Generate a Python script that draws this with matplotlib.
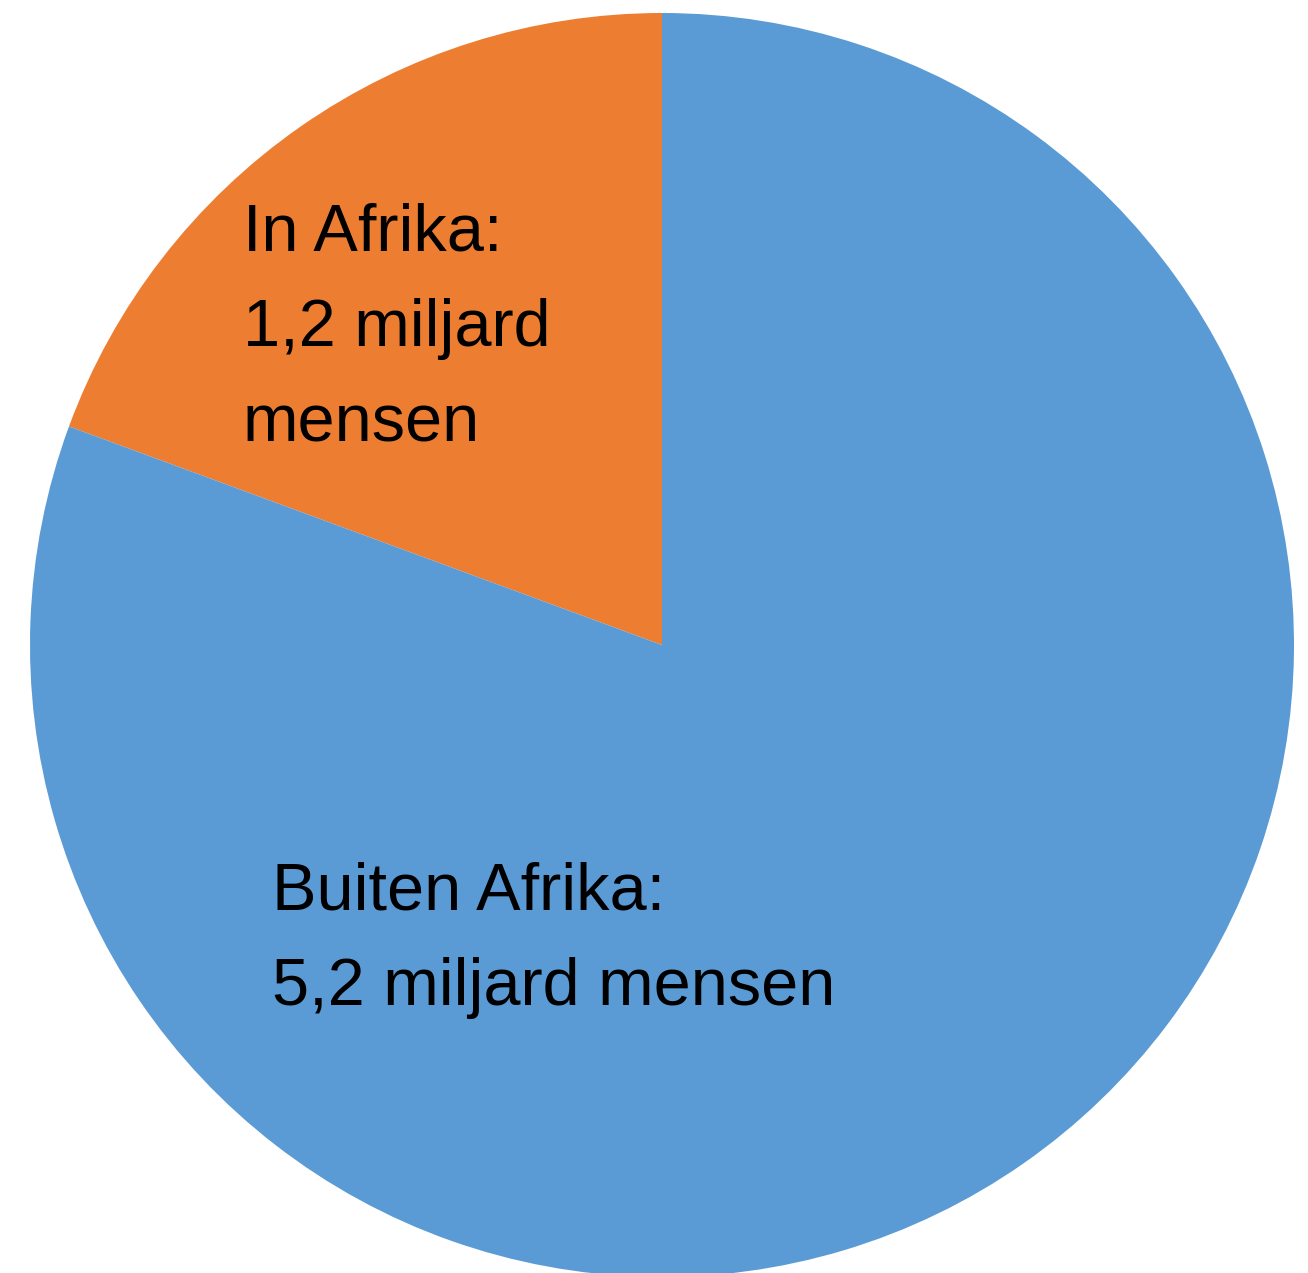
import matplotlib.pyplot as plt

plt.rcParams['font.family'] = ['Liberation Sans', 'DejaVu Sans']

# aantal mensen (miljard); de oranje sector is in het origineel iets groter dan 1,2
labels = ['In Afrika:\n1,2 miljard\nmensen', 'Buiten Afrika:\n5,2 miljard mensen']
values = [1.25, 5.2]
colors = ['#ED7D31', '#5B9BD5']

W, H = 1308, 1273
cx, cy, r = 662, 645, 632


def to_data(px, py):
    return (px - cx) / r, (cy - py) / r


fig = plt.figure(figsize=(W / 100, H / 100), dpi=100)
ax = fig.add_axes([0, 0, 1, 1])
ax.pie(values, colors=colors, startangle=90, counterclock=True,
       radius=1, center=(0, 0), wedgeprops=dict(linewidth=0))
ax.set_xlim(-cx / r, (W - cx) / r)
ax.set_ylim(-(H - cy) / r, cy / r)
ax.set_aspect('auto')
ax.axis('off')

# va='baseline' lijnt de laatste regel uit
x, y = to_data(243, 442)
ax.text(x, y, labels[0], ha='left', va='baseline', fontsize=48, linespacing=1.7)
x, y = to_data(272, 1005)
ax.text(x, y, labels[1], ha='left', va='baseline', fontsize=48, linespacing=1.7)

fig.savefig('out.png', dpi=100)
